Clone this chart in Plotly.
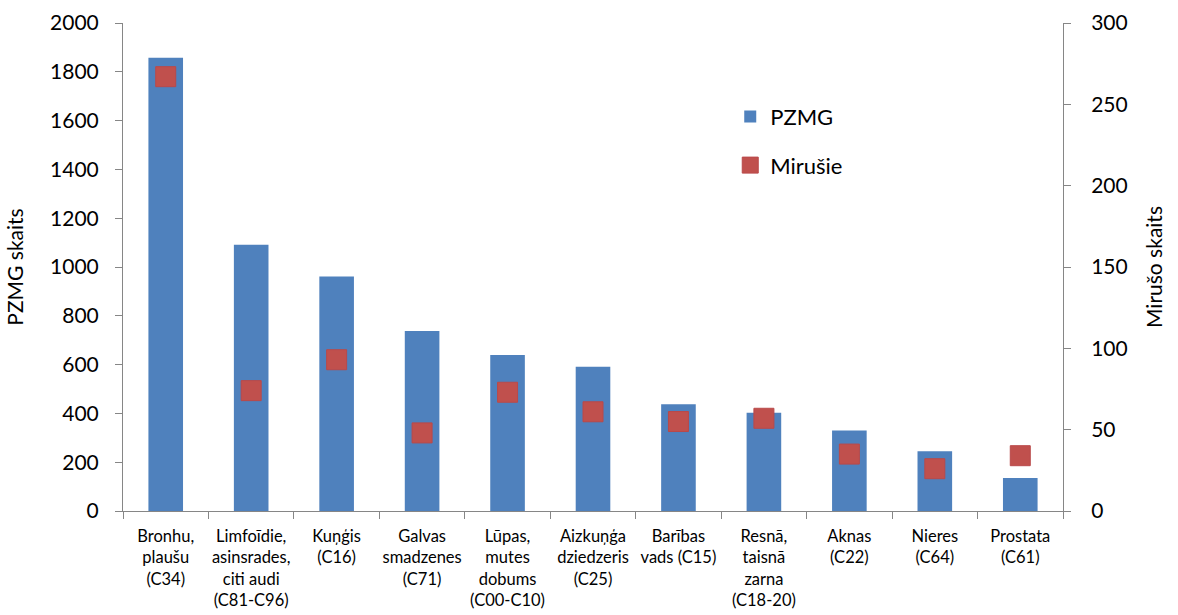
import plotly.graph_objects as go

# Vēža lokalizācijas (kategorijas)
categories = [
    "Bronhu,<br>plaušu<br>(C34)",
    "Limfoīdie,<br>asinsrades,<br>citi audi<br>(C81-C96)",
    "Kuņģis<br>(C16)",
    "Galvas<br>smadzenes<br>(C71)",
    "Lūpas,<br>mutes<br>dobums<br>(C00-C10)",
    "Aizkuņģa<br>dziedzeris<br>(C25)",
    "Barības<br>vads (C15)",
    "Resnā,<br>taisnā<br>zarna<br>(C18-20)",
    "Aknas<br>(C22)",
    "Nieres<br>(C64)",
    "Prostata<br>(C61)",
]

# PZMG skaits (kreisā ass)
pzmg = [1858, 1091, 961, 738, 639, 591, 438, 403, 330, 245, 135]

# Mirušo skaits (labā ass)
mirusie = [267, 74, 93, 48, 73, 61, 55, 57, 35, 26, 34]

left_ticks = [0, 200, 400, 600, 800, 1000, 1200, 1400, 1600, 1800, 2000]
right_ticks = [0, 50, 100, 150, 200, 250, 300]

FONT = "Lato, 'Open Sans', sans-serif"
AXIS_GREY = "#868686"

fig = go.Figure()

fig.add_trace(go.Bar(
    x=categories,
    y=pzmg,
    name="PZMG",
    marker=dict(color="#4F81BD", line=dict(width=0)),
    width=0.405,
    legendgroup="a",
    yaxis="y",
))

fig.add_trace(go.Scatter(
    x=categories,
    y=mirusie,
    name="Mirušie",
    mode="markers",
    marker=dict(symbol="square", size=20, color="#C0504D",
                line=dict(width=1, color="#B9494A")),
    legendgroup="b",
    yaxis="y2",
))

fig.update_layout(
    width=1178,
    height=615,
    margin=dict(l=123, r=115, t=23, b=104),
    paper_bgcolor="white",
    plot_bgcolor="white",
    font=dict(family=FONT, color="#000000"),
    showlegend=True,
    legend=dict(
        x=0.646, y=0.851, xanchor="left", yanchor="top",
        font=dict(size=22, family=FONT),
        bgcolor="rgba(0,0,0,0)",
        tracegroupgap=17,
        itemwidth=30,
    ),
    xaxis=dict(
        type="category",
        range=[-0.5, len(categories) - 0.5],
        automargin=False,
        tickangle=0,
        showline=True, linecolor=AXIS_GREY, linewidth=1,
        ticks="outside", tickson="boundaries", ticklen=7, tickcolor=AXIS_GREY,
        tickfont=dict(size=16.5, family=FONT),
        ticklabelstandoff=10,
        showgrid=False,
        zeroline=False,
    ),
    yaxis=dict(
        range=[0, 2000],
        automargin=False,
        tickvals=left_ticks,
        showline=True, linecolor=AXIS_GREY, linewidth=1,
        ticks="outside", ticklen=7, tickcolor=AXIS_GREY,
        tickfont=dict(size=21, family=FONT),
        ticklabelstandoff=12,
        showgrid=False, zeroline=False,
        title=dict(text="PZMG skaits", font=dict(size=21, family=FONT), standoff=20),
    ),
    yaxis2=dict(
        range=[0, 300],
        automargin=False,
        tickvals=right_ticks,
        overlaying="y",
        side="right",
        showline=True, linecolor=AXIS_GREY, linewidth=1,
        ticks="outside", ticklen=7, tickcolor=AXIS_GREY,
        tickfont=dict(size=21, family=FONT),
        ticklabelstandoff=16,
        showgrid=False, zeroline=False,
        title=dict(text="Mirušo skaits", font=dict(size=21, family=FONT), standoff=20),
    ),
)

fig.write_html("out.html")
